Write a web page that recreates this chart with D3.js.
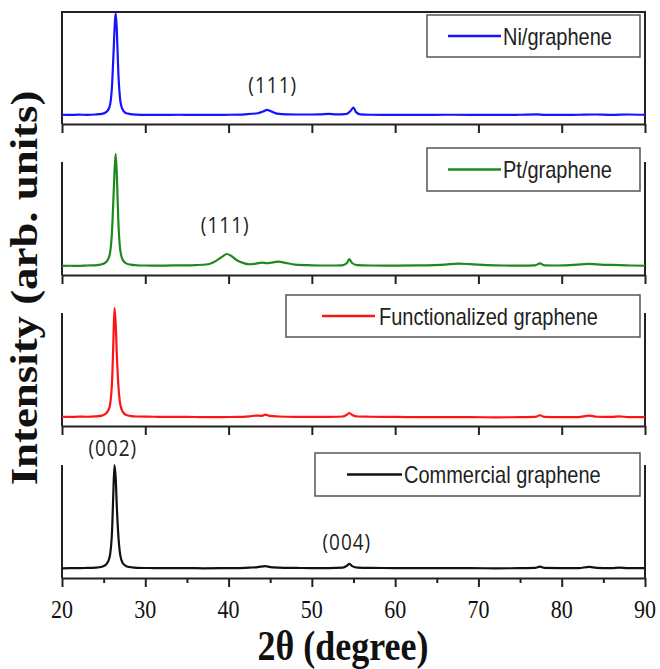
<!DOCTYPE html>
<html><head><meta charset="utf-8">
<script src="https://cdn.jsdelivr.net/npm/d3@7"></script>
<style>body{margin:0;background:#fff}svg{display:block}</style>
</head><body><svg id="c" width="660" height="669"></svg>
<script>
// ---- data (2θ in degrees, intensity in arbitrary units) ----
const seriesNames = ["Ni/graphene", "Pt/graphene", "Functionalized graphene", "Commercial graphene"];
const xTickValues = [20, 30, 40, 50, 60, 70, 80, 90];
const xMinorTicks = [25, 35, 45, 55, 65, 75, 85];

const niData = [[20,82],[21,80],[22,83],[23,81],[24,84],[24.8,90],[25.3,105],[25.7,150],[26.0,330],[26.2,650],[26.35,900],[26.45,982],[26.6,800],[26.75,480],[26.95,240],[27.2,140],[27.6,100],[28.2,88],[29,83],[30,81],[32,80],[34,82],[36,80],[38,81],[40,82],[42,86],[43.5,95],[44.2,112],[44.6,125],[45.1,112],[45.8,92],[47,85],[49,84],[51,86],[52,90],[53,85],[54.2,90],[54.7,120],[55.0,145],[55.3,105],[55.8,86],[57,82],[60,81],[63,80],[66,82],[69,81],[72,80],[75,82],[77,85],[78,81],[80,80],[82,82],[84,84],[86,81],[88,84],[90,82]];
const ptData = [[20,80],[21,82],[22,81],[23,84],[24,86],[24.8,95],[25.3,115],[25.7,170],[26.0,380],[26.2,720],[26.35,980],[26.45,1071],[26.6,850],[26.75,500],[26.95,250],[27.2,150],[27.6,108],[28.2,92],[29,86],[30,84],[32,83],[34,85],[36,88],[37.5,95],[38.5,125],[39.3,165],[39.8,186],[40.3,170],[41,130],[41.8,105],[42.5,95],[43.3,100],[44,110],[44.6,104],[45.3,112],[46,118],[46.8,108],[48,92],[50,86],[52,84],[53.6,86],[54.2,105],[54.5,140],[54.8,108],[55.4,88],[57,84],[60,83],[63,85],[66,92],[67.6,100],[69,96],[71,88],[73,84],[75,83],[76.8,86],[77.4,102],[77.9,85],[79,84],[81,88],[83.3,98],[85,90],[87,88],[88.5,84],[90,82]];
const funcData = [[20,82],[21,80],[22,83],[23,82],[24,85],[24.8,92],[25.3,112],[25.7,165],[26.0,380],[26.15,700],[26.3,1044],[26.45,900],[26.6,600],[26.8,330],[27.0,190],[27.3,125],[27.7,98],[28.3,88],[29,84],[31,82],[33,80],[35,81],[37,78],[39,79],[41,80],[42.5,86],[43.3,92],[44,90],[44.4,100],[44.9,90],[46,84],[48,80],[50,80],[52,81],[53.7,84],[54.2,100],[54.5,115],[54.9,95],[55.5,84],[57,82],[60,80],[63,78],[66,79],[69,78],[72,77],[75,78],[76.8,80],[77.4,95],[77.9,80],[80,78],[82,79],[83.3,92],[84.2,82],[86,80],[86.9,86],[88,78],[90,79]];
const comData = [[20,86],[21,88],[22,87],[23,89],[24,92],[24.8,100],[25.3,120],[25.7,180],[26.0,400],[26.15,720],[26.3,1000],[26.45,880],[26.6,600],[26.8,340],[27.0,200],[27.3,130],[27.7,105],[28.3,95],[29,90],[31,88],[33,87],[35,88],[37,86],[39,87],[41,88],[42.5,92],[43.5,96],[44.4,105],[45,97],[46,92],[48,89],[50,88],[52,88],[53.7,92],[54.2,108],[54.5,125],[54.9,103],[55.5,92],[57,89],[60,88],[63,87],[66,88],[69,87],[72,86],[75,87],[76.8,89],[77.4,100],[77.9,89],[80,88],[82,88],[83.3,98],[84.2,90],[86,88],[86.9,92],[88,87],[90,88]];

const annotations = [
  {panel: 0, x: 45.3, y: 270, text: "(111)"},
  {panel: 1, x: 39.6, y: 370, text: "(111)"},
  {panel: 3, x: 26.1, y: 1080, text: "(002)"},
  {panel: 3, x: 54.2, y: 250, text: "(004)"}
];

// ---- layout ----
const colors = ["#1414ff", "#1e8a1e", "#ff1414", "#111111"];
const allData = [niData, ptData, funcData, comData];
const axisYs = [124, 275, 426, 578];
const panelH = 113;
const L = 62, R = 645;
const legends = [
  {x0: 427, y0: 15, y1: 57, lx0: 448, lx1: 501, tx: 503},
  {x0: 427, y0: 148, y1: 191, lx0: 448, lx1: 501, tx: 503},
  {x0: 286, y0: 295, y1: 337, lx0: 322, lx1: 375, tx: 379},
  {x0: 315, y0: 453, y1: 496, lx0: 347, lx1: 402, tx: 404}
];
const SY = 1.18;

const svg = d3.select("#c");
const x = d3.scaleLinear().domain([20, 90]).range([L, R]);
const frameColor = "#222";

allData.forEach((data, i) => {
  const ay = axisYs[i];
  const y = d3.scaleLinear().domain([0, 1000]).range([ay, ay - panelH]);
  const g = svg.append("g");
  // side lines
  g.append("line").attr("x1", L).attr("x2", L).attr("y1", ay - panelH).attr("y2", ay)
    .attr("stroke", frameColor).attr("stroke-width", 2);
  g.append("line").attr("x1", R).attr("x2", R).attr("y1", ay - panelH).attr("y2", ay)
    .attr("stroke", frameColor).attr("stroke-width", 2);
  if (i === 0) {
    g.append("line").attr("x1", L - 1).attr("x2", R + 1).attr("y1", ay - panelH + 1).attr("y2", ay - panelH + 1)
      .attr("stroke", frameColor).attr("stroke-width", 2);
  }
  // axis
  const ax = g.append("g").attr("transform", `translate(0,${ay})`)
    .call(d3.axisBottom(x).tickValues(xTickValues).tickSize(9).tickSizeOuter(0).tickFormat(""));
  ax.selectAll("path,line").attr("stroke", frameColor).attr("stroke-width", 2);
  if (i === 3) {
    const ax2 = g.append("g").attr("transform", `translate(0,${ay})`)
      .call(d3.axisBottom(x).tickValues(xMinorTicks).tickSize(5).tickSizeOuter(0).tickFormat(""));
    ax2.select("path").remove();
    ax2.selectAll("line").attr("stroke", frameColor).attr("stroke-width", 2);
    xTickValues.forEach(t => {
      g.append("text").attr("transform", `translate(${x(t)},618) scale(1,${SY})`)
        .attr("text-anchor", "middle").attr("font-family", "Liberation Serif, Times New Roman, serif")
        .attr("font-size", 22).attr("fill", "#111").text(t);
    });
  }
  // trace
  g.append("path").datum(data)
    .attr("d", d3.line().x(d => x(d[0])).y(d => y(d[1])).curve(d3.curveMonotoneX))
    .attr("fill", "none").attr("stroke", colors[i]).attr("stroke-width", 2.2).attr("stroke-linejoin", "round");
  // legend
  const lg = legends[i];
  g.append("rect").attr("x", lg.x0).attr("y", lg.y0).attr("width", 640 - lg.x0).attr("height", lg.y1 - lg.y0)
    .attr("fill", "#fff").attr("stroke", "#555").attr("stroke-width", 1.5);
  const cy = (lg.y0 + lg.y1) / 2;
  g.append("line").attr("x1", lg.lx0).attr("x2", lg.lx1).attr("y1", cy).attr("y2", cy)
    .attr("stroke", colors[i]).attr("stroke-width", 2.5);
  g.append("text").attr("transform", `translate(${lg.tx},${cy + 8.5}) scale(1,${SY})`)
    .attr("font-family", "Liberation Sans, Arial, sans-serif").attr("font-size", 20).attr("fill", "#222")
    .text(seriesNames[i]);
  // annotations
  annotations.filter(a => a.panel === i).forEach(a => {
    g.append("text").attr("transform", `translate(${x(a.x)},${y(a.y)}) scale(1,1.12)`).attr("text-anchor", "middle")
      .attr("font-family", "Open Sans, sans-serif").attr("font-size", 19).attr("letter-spacing", 1)
      .attr("fill", "#222").text(a.text);
  });
});

// axis titles
svg.append("text").attr("transform", `translate(343,660) scale(1,${SY})`).attr("text-anchor", "middle")
  .attr("font-family", "Liberation Serif, Times New Roman, serif").attr("font-weight", "bold")
  .attr("font-size", 36).attr("fill", "#111").text("2θ (degree)");
svg.append("text").attr("transform", `translate(37,288) rotate(-90) scale(${SY},1)`).attr("text-anchor", "middle")
  .attr("font-family", "Liberation Serif, Times New Roman, serif").attr("font-weight", "bold")
  .attr("font-size", 38).attr("fill", "#111").text("Intensity (arb. units)");
</script></body></html>
